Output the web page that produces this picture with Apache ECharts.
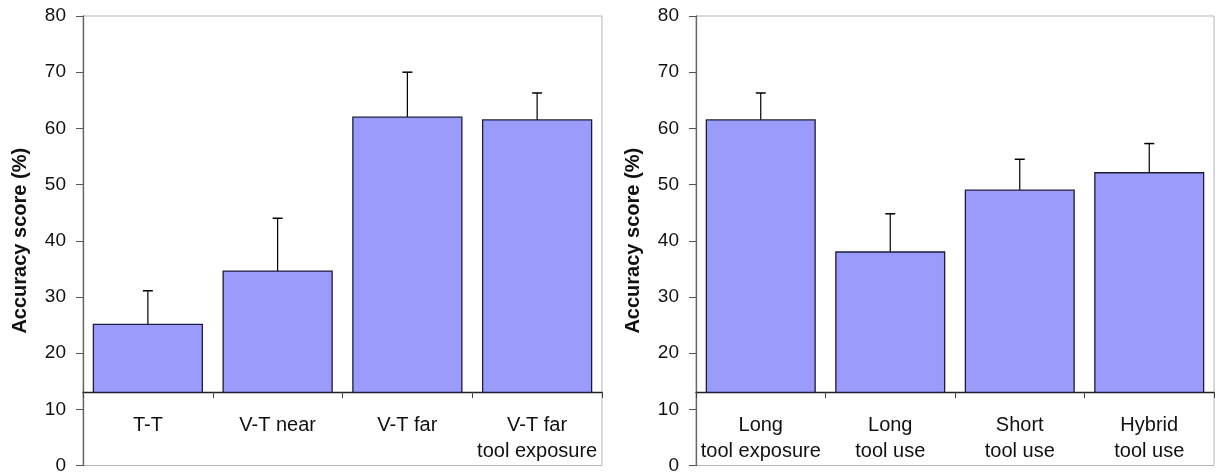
<!DOCTYPE html>
<html>
<head>
<meta charset="utf-8">
<script src="https://cdn.jsdelivr.net/npm/echarts@6/dist/echarts.min.js"></script>
<style>
html,body{margin:0;padding:0;background:#fff;}
#chart{width:1216px;height:475px;}
</style>
</head>
<body>
<div id="chart"></div>
<script>
// ---- Data ----
const leftCategories = ['T-T', 'V-T near', 'V-T far', 'V-T far\ntool exposure'];
const leftMeans = [25.1, 34.6, 62.0, 61.5];
const leftUpper = [31.1, 44.0, 70.0, 66.3];

const rightCategories = ['Long\ntool exposure', 'Long\ntool use', 'Short\ntool use', 'Hybrid\ntool use'];
const rightMeans = [61.5, 38.0, 49.0, 52.1];
const rightUpper = [66.3, 44.8, 54.5, 57.3];

const yTicks = { min: 0, max: 80, interval: 10 };
const baseValue = 13;

// ---- Layout ----
const gridTop = 16, gridBottom = 7;
const plotH = 475 - gridTop - gridBottom;
const axisOffset = -(plotH * baseValue / (yTicks.max - yTicks.min));
const FONT = 'Liberation Sans, Arial, sans-serif';

function renderBar(params, api) {
  const i = api.value(0);
  const mean = api.value(1);
  const up = api.value(2);
  const p0 = api.coord([i, baseValue]);
  const p1 = api.coord([i, mean]);
  const pe = api.coord([i, up]);
  const bw = api.size([1, 0])[0] * 0.84;
  const x = p0[0];
  return {
    type: 'group',
    children: [
      { type: 'line', shape: { x1: x, y1: p1[1], x2: x, y2: pe[1] }, style: { stroke: '#000', lineWidth: 1.2 } },
      { type: 'line', shape: { x1: x - 5, y1: pe[1], x2: x + 5, y2: pe[1] }, style: { stroke: '#000', lineWidth: 1.5 } },
      { type: 'rect', shape: { x: x - bw / 2, y: p1[1], width: bw, height: p0[1] - p1[1] },
        style: { fill: '#9b9bfb', stroke: '#1c1c3c', lineWidth: 1.3 } }
    ]
  };
}

function makeX(idx, cats) {
  return {
    type: 'category', gridIndex: idx, data: cats, position: 'bottom', offset: axisOffset,
    axisLine: { show: true, lineStyle: { color: '#222', width: 1.3 } },
    axisTick: { show: true, length: 6, lineStyle: { color: '#444' } },
    axisLabel: { fontFamily: FONT, fontSize: 20, color: '#111', lineHeight: 25.5, margin: 21, interval: 0 },
    splitLine: { show: false }
  };
}
function makeY(idx) {
  return {
    type: 'value', gridIndex: idx, min: yTicks.min, max: yTicks.max, interval: yTicks.interval,
    name: 'Accuracy score (%)', nameLocation: 'middle', nameGap: 53, nameRotate: 90,
    nameTextStyle: { fontFamily: FONT, fontSize: 20, fontWeight: 'bold', color: '#111' },
    axisLine: { show: true, lineStyle: { color: '#666', width: 1.3 } },
    axisTick: { show: true, length: 7, lineStyle: { color: '#555' } },
    axisLabel: { fontFamily: FONT, fontSize: 19, color: '#111', margin: 17 },
    splitLine: { show: false }
  };
}

const chart = echarts.init(document.getElementById('chart'), null, { renderer: 'canvas' });
chart.setOption({
  animation: false,
  backgroundColor: '#fff',
  grid: [
    { left: 83, right: 1216 - 602, top: gridTop, bottom: gridBottom, show: true, borderColor: '#b5b5b5', borderWidth: 1, containLabel: false },
    { left: 696, right: 2, top: gridTop, bottom: gridBottom, show: true, borderColor: '#b5b5b5', borderWidth: 1, containLabel: false }
  ],
  xAxis: [makeX(0, leftCategories), makeX(1, rightCategories)],
  yAxis: [makeY(0), makeY(1)],
  series: [
    { type: 'custom', xAxisIndex: 0, yAxisIndex: 0, renderItem: renderBar,
      encode: { x: 0, y: [1, 2] },
      data: leftMeans.map((m, i) => [i, m, leftUpper[i]]) },
    { type: 'custom', xAxisIndex: 1, yAxisIndex: 1, renderItem: renderBar,
      encode: { x: 0, y: [1, 2] },
      data: rightMeans.map((m, i) => [i, m, rightUpper[i]]) }
  ]
});
</script>
</body>
</html>
